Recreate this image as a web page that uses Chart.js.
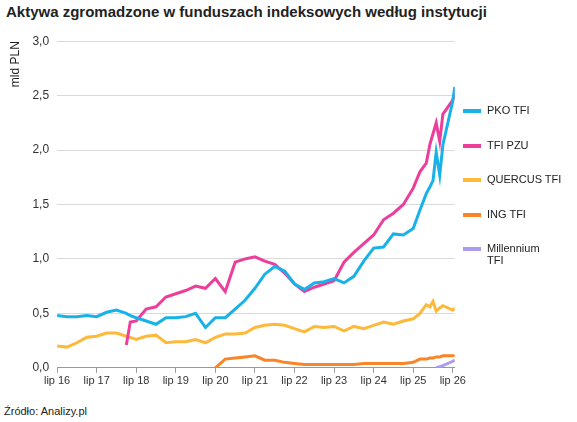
<!DOCTYPE html><html><head><meta charset="utf-8">
<script src="https://cdn.jsdelivr.net/npm/chart.js@4"></script>
<style>
body{margin:0;width:577px;height:422px;background:#fff;font-family:"Liberation Sans",Arial,sans-serif;position:relative;overflow:hidden}
#t{position:absolute;left:6px;top:3px;font-size:15px;font-weight:bold;color:#222}
#w{position:absolute;left:0;top:26px;width:468px;height:364px}
#src{position:absolute;left:4px;top:405px;font-size:11px;color:#222}
#lg{position:absolute;left:463px;top:104px;font-size:11px;color:#222}
.it{position:relative;height:34.5px;padding-left:24px}
.it i{position:absolute;left:0;top:5px;width:18px;height:4px}
</style></head><body>
<div id="t">Aktywa zgromadzone w funduszach indeksowych według instytucji</div>
<div id="w"><canvas id="c"></canvas></div>
<div id="lg"></div>
<div id="src">Źródło: Analizy.pl</div>
<script>
const times=[16,16.25,16.5,16.75,17,17.25,17.5,17.75,17.85,18,18.25,18.5,18.75,19,19.25,19.5,19.75,20,20.25,20.5,20.75,21,21.25,21.5,21.75,22,22.25,22.5,22.75,23,23.25,23.5,23.75,24,24.25,24.5,24.75,25,25.17,25.33,25.42,25.5,25.58,25.67,25.75,26,26.05];
const pko=[0.48,0.47,0.47,0.48,0.47,0.51,0.53,0.50,0.48,0.46,0.43,0.40,0.46,0.46,0.47,0.50,0.37,0.46,0.46,0.54,0.62,0.73,0.86,0.93,0.89,0.77,0.72,0.78,0.79,0.82,0.78,0.84,0.98,1.10,1.11,1.23,1.22,1.28,1.45,1.60,1.66,1.72,1.98,1.77,2.05,2.45,2.58];
const pzu=[null,null,null,null,null,null,null,0.21,0.42,0.43,0.54,0.56,0.65,0.68,0.71,0.75,0.73,0.82,0.70,0.97,1.00,1.02,0.98,0.95,0.87,0.77,0.70,0.74,0.77,0.80,0.97,1.06,1.14,1.22,1.36,1.42,1.50,1.65,1.80,1.88,2.05,2.15,2.25,2.08,2.33,2.46,2.52];
const quercus=[0.20,0.19,0.23,0.28,0.29,0.32,0.32,0.29,0.28,0.26,0.29,0.30,0.23,0.24,0.24,0.26,0.23,0.28,0.31,0.31,0.32,0.37,0.39,0.40,0.39,0.36,0.33,0.38,0.37,0.38,0.34,0.38,0.36,0.39,0.42,0.40,0.43,0.45,0.50,0.58,0.56,0.61,0.52,0.55,0.57,0.53,0.55];
const ing=[null,null,null,null,null,null,null,null,null,null,null,null,null,null,null,null,null,0.0,0.08,0.09,0.10,0.11,0.07,0.07,0.05,0.04,0.03,0.03,0.03,0.03,0.03,0.03,0.04,0.04,0.04,0.04,0.04,0.05,0.08,0.08,0.09,0.09,0.10,0.10,0.11,0.11,0.11];
const millennium=[null,null,null,null,null,null,null,null,null,null,null,null,null,null,null,null,null,null,null,null,null,null,null,null,null,null,null,null,null,null,null,null,null,null,null,null,null,null,null,null,null,null,0.0,0.01,0.02,0.06,0.07];
const names=["PKO TFI","TFI PZU","QUERCUS TFI","ING TFI","Millennium TFI"];
const colors=["#19b2e8","#ec3f9c","#fdb93a","#fb8526","#a99cf2"];
const yTicks=[0,0.5,1,1.5,2,2.5,3];
const series=[pko,pzu,quercus,ing,millennium];
const ds=series.map((s,i)=>({label:names[i],data:times.map((t,j)=>({x:t,y:s[j]})),borderColor:colors[i],borderWidth:3,pointRadius:0,tension:0,spanGaps:false}));
const lg=document.getElementById('lg');
names.forEach((n,i)=>{const d=document.createElement('div');d.className='it';d.innerHTML='<i style="background:'+colors[i]+'"></i>'+(n==="Millennium TFI"?'Millennium<br>TFI':n);lg.appendChild(d);});
new Chart(document.getElementById('c'),{type:'line',data:{datasets:ds},options:{animation:false,responsive:true,maintainAspectRatio:false,
layout:{padding:{left:4,right:12,top:12,bottom:0}},
plugins:{legend:{display:false},tooltip:{enabled:false}},
scales:{x:{type:'linear',min:16,max:26.05,afterBuildTicks:a=>{a.ticks=[16,17,18,19,20,21,22,23,24,25,26].map(v=>({value:v}));},
ticks:{callback:v=>'lip '+v,font:{size:11,family:'Liberation Sans'},color:'#333',maxRotation:0,autoSkip:false,padding:2},
grid:{drawOnChartArea:false,tickLength:5,color:'#999'},border:{color:'#999'}},
y:{min:0,max:3,afterBuildTicks:a=>{a.ticks=yTicks.map(v=>({value:v}));},ticks:{callback:v=>v.toFixed(1).replace('.',','),font:{size:12,family:'Liberation Sans'},color:'#333',padding:8},
grid:{color:'#d9d9d9',drawTicks:false},border:{display:false},
title:{display:true,align:'end',text:'mld PLN',font:{size:12,family:'Liberation Sans'},color:'#222',padding:{bottom:2}}}}}});
</script></body></html>
